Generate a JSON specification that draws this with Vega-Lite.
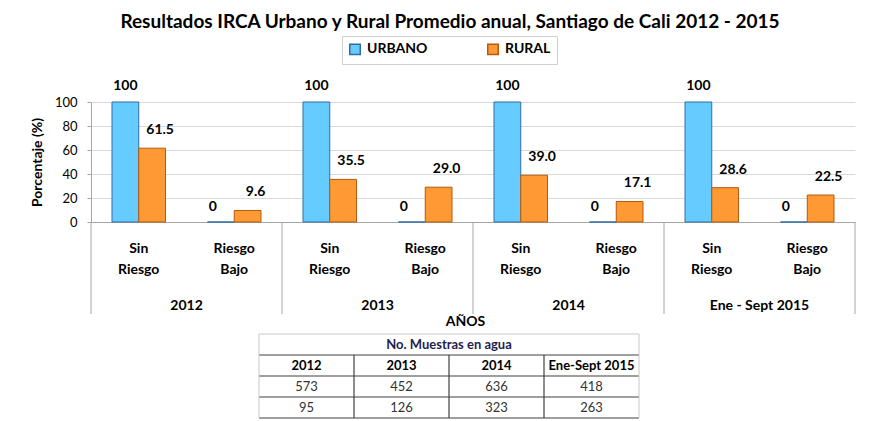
{
  "$schema": "https://vega.github.io/schema/vega-lite/v6.json",
  "autosize": {"type": "pad"},
  "padding": {"left": 30, "top": 12, "right": 5, "bottom": 2},
  "background": "white",
  "config": {"font": "Lato", "view": {"stroke": null}},
  "title": {"text": "Resultados IRCA Urbano y Rural Promedio anual, Santiago de Cali  2012 - 2015", "font": "Lato", "fontSize": 19, "fontWeight": "bold", "color": "#000000", "anchor": "middle", "frame": "group", "dx": -23, "offset": 4},
  "datasets": {
    "barras": [
      {"anio": "2012", "riesgo": "Sin Riesgo", "clave": "2012 Sin Riesgo", "serie": "URBANO", "valor": 100},
      {"anio": "2012", "riesgo": "Sin Riesgo", "clave": "2012 Sin Riesgo", "serie": "RURAL", "valor": 61.5},
      {"anio": "2012", "riesgo": "Riesgo Bajo", "clave": "2012 Riesgo Bajo", "serie": "URBANO", "valor": 0},
      {"anio": "2012", "riesgo": "Riesgo Bajo", "clave": "2012 Riesgo Bajo", "serie": "RURAL", "valor": 9.6},
      {"anio": "2013", "riesgo": "Sin Riesgo", "clave": "2013 Sin Riesgo", "serie": "URBANO", "valor": 100},
      {"anio": "2013", "riesgo": "Sin Riesgo", "clave": "2013 Sin Riesgo", "serie": "RURAL", "valor": 35.5},
      {"anio": "2013", "riesgo": "Riesgo Bajo", "clave": "2013 Riesgo Bajo", "serie": "URBANO", "valor": 0},
      {"anio": "2013", "riesgo": "Riesgo Bajo", "clave": "2013 Riesgo Bajo", "serie": "RURAL", "valor": 29.0},
      {"anio": "2014", "riesgo": "Sin Riesgo", "clave": "2014 Sin Riesgo", "serie": "URBANO", "valor": 100},
      {"anio": "2014", "riesgo": "Sin Riesgo", "clave": "2014 Sin Riesgo", "serie": "RURAL", "valor": 39.0},
      {"anio": "2014", "riesgo": "Riesgo Bajo", "clave": "2014 Riesgo Bajo", "serie": "URBANO", "valor": 0},
      {"anio": "2014", "riesgo": "Riesgo Bajo", "clave": "2014 Riesgo Bajo", "serie": "RURAL", "valor": 17.1},
      {"anio": "Ene - Sept 2015", "riesgo": "Sin Riesgo", "clave": "Ene - Sept 2015 Sin Riesgo", "serie": "URBANO", "valor": 100},
      {"anio": "Ene - Sept 2015", "riesgo": "Sin Riesgo", "clave": "Ene - Sept 2015 Sin Riesgo", "serie": "RURAL", "valor": 28.6},
      {"anio": "Ene - Sept 2015", "riesgo": "Riesgo Bajo", "clave": "Ene - Sept 2015 Riesgo Bajo", "serie": "URBANO", "valor": 0},
      {"anio": "Ene - Sept 2015", "riesgo": "Riesgo Bajo", "clave": "Ene - Sept 2015 Riesgo Bajo", "serie": "RURAL", "valor": 22.5}
    ],
    "muestras": [
      {"periodo": "2012", "urbano": 573, "rural": 95},
      {"periodo": "2013", "urbano": 452, "rural": 126},
      {"periodo": "2014", "urbano": 636, "rural": 323},
      {"periodo": "Ene-Sept 2015", "urbano": 418, "rural": 263}
    ],
    "encabezado": [{"titulo": "No. Muestras en agua"}],
    "filas": [{"fila": "titulo"}, {"fila": "periodo"}, {"fila": "urbano"}, {"fila": "rural"}]
  },
  "bounds": "flush",
  "spacing": 0,
  "resolve": {"scale": {"x": "independent", "y": "independent"}},
  "vconcat": [
    {
      "width": 764,
      "height": 120,
      "data": {"name": "barras"},
      "encoding": {
        "x": {"field": "clave", "type": "nominal", "sort": null,
          "scale": {"domain": ["2012 Sin Riesgo", "2012 Riesgo Bajo", "2013 Sin Riesgo", "2013 Riesgo Bajo", "2014 Sin Riesgo", "2014 Riesgo Bajo", "Ene - Sept 2015 Sin Riesgo", "Ene - Sept 2015 Riesgo Bajo"], "paddingInner": 0.44, "paddingOuter": 0.22},
          "axis": {"labels": false, "ticks": false, "title": null, "grid": false, "domainColor": "#a6a6a6"}},
        "xOffset": {"field": "serie", "type": "nominal", "scale": {"domain": ["URBANO", "RURAL"]}},
        "y": {"field": "valor", "type": "quantitative", "scale": {"domain": [0, 100]},
          "axis": {"values": [0, 20, 40, 60, 80, 100], "grid": true, "gridColor": "#d9d9d9", "domainColor": "#a6a6a6", "tickColor": "#a6a6a6", "tickSize": 4, "labelPadding": 10, "labelFont": "Lato", "labelFontSize": 13, "labelColor": "#000000", "title": "Porcentaje (%)", "titleFont": "Lato", "titleFontSize": 14, "titleFontWeight": "bold", "titleColor": "#000000", "titlePadding": 10}}
      },
      "layer": [
        {
          "mark": {"type": "bar", "strokeWidth": 1},
          "encoding": {
            "fill": {"field": "serie", "type": "nominal", "scale": {"domain": ["URBANO", "RURAL"], "range": ["#66CCFF", "#FF9933"]},
              "legend": {"title": null, "orient": "none", "legendX": 251, "legendY": -66, "direction": "horizontal", "symbolType": "square", "symbolSize": 110, "labelFont": "Lato", "labelFontSize": 14, "labelFontWeight": "bold", "labelColor": "#000000", "strokeColor": "#d0d0d0", "fillColor": "white", "padding": 6, "columnPadding": 56, "labelOffset": 5}},
            "stroke": {"field": "serie", "type": "nominal", "scale": {"domain": ["URBANO", "RURAL"], "range": ["#2E6DA4", "#B35A0F"]},
              "legend": {"title": null, "orient": "none", "legendX": 251, "legendY": -66, "direction": "horizontal", "symbolType": "square", "symbolSize": 110, "labelFont": "Lato", "labelFontSize": 14, "labelFontWeight": "bold", "labelColor": "#000000", "strokeColor": "#d0d0d0", "fillColor": "white", "padding": 6, "columnPadding": 56, "labelOffset": 5}}
          }
        },
        {
          "transform": [{"filter": "datum.serie == 'URBANO' && datum.valor > 0"}],
          "mark": {"type": "text", "fontWeight": "bold", "fontSize": 14, "dy": -16, "baseline": "middle", "color": "#000000"},
          "encoding": {"text": {"field": "valor", "type": "quantitative", "format": "d"}}
        },
        {
          "transform": [{"filter": "datum.serie == 'URBANO' && datum.valor == 0"}],
          "mark": {"type": "text", "fontWeight": "bold", "fontSize": 14, "dy": -15, "dx": -8, "baseline": "middle", "color": "#000000"},
          "encoding": {"text": {"field": "valor", "type": "quantitative", "format": "d"}}
        },
        {
          "transform": [{"filter": "datum.serie == 'RURAL'"}],
          "mark": {"type": "text", "fontWeight": "bold", "fontSize": 14, "dy": -18, "dx": 8, "baseline": "middle", "color": "#000000"},
          "encoding": {"text": {"field": "valor", "type": "quantitative", "format": ".1f"}}
        }
      ]
    },
    {
      "width": 764,
      "height": 92,
      "data": {"name": "barras"},
      "transform": [{"filter": "datum.serie == 'URBANO'"}],
      "encoding": {
        "x": {"field": "clave", "type": "nominal", "sort": null,
          "scale": {"domain": ["2012 Sin Riesgo", "2012 Riesgo Bajo", "2013 Sin Riesgo", "2013 Riesgo Bajo", "2014 Sin Riesgo", "2014 Riesgo Bajo", "Ene - Sept 2015 Sin Riesgo", "Ene - Sept 2015 Riesgo Bajo"], "paddingInner": 0, "paddingOuter": 0},
          "axis": {"labels": false, "ticks": false, "domain": false, "grid": false, "title": "AÑOS", "titleFont": "Lato", "titleFontSize": 14, "titleFontWeight": "bold", "titleColor": "#000000", "titlePadding": 0, "titleX": 374}}
      },
      "layer": [
        {
          "mark": {"type": "text", "lineBreak": " ", "lineHeight": 21, "fontSize": 14, "fontWeight": "bold", "dy": -19.5, "color": "#000000"},
          "encoding": {"text": {"field": "riesgo"}}
        },
        {
          "transform": [{"filter": "datum.riesgo == 'Sin Riesgo'"}],
          "mark": {"type": "text", "fontSize": 14, "fontWeight": "bold", "dy": 38, "color": "#000000"},
          "encoding": {"x": {"field": "clave", "type": "nominal", "bandPosition": 1,
            "axis": {"labels": false, "ticks": false, "domain": false, "grid": false, "title": "AÑOS", "titleFont": "Lato", "titleFontSize": 14, "titleFontWeight": "bold", "titleColor": "#000000", "titlePadding": 0, "titleX": 374}}, "text": {"field": "anio"}}
        },
        {
          "transform": [{"filter": "datum.riesgo == 'Sin Riesgo'"}],
          "mark": {"type": "rule", "color": "#a6a6a6"},
          "encoding": {"x": {"field": "clave", "type": "nominal", "bandPosition": 0,
            "axis": {"labels": false, "ticks": false, "domain": false, "grid": false, "title": "AÑOS", "titleFont": "Lato", "titleFontSize": 14, "titleFontWeight": "bold", "titleColor": "#000000", "titlePadding": 0, "titleX": 374}}}
        },
        {
          "transform": [{"filter": "datum.clave == 'Ene - Sept 2015 Riesgo Bajo'"}],
          "mark": {"type": "rule", "color": "#a6a6a6"},
          "encoding": {"x": {"field": "clave", "type": "nominal", "bandPosition": 1,
            "axis": {"labels": false, "ticks": false, "domain": false, "grid": false, "title": "AÑOS", "titleFont": "Lato", "titleFontSize": 14, "titleFontWeight": "bold", "titleColor": "#000000", "titlePadding": 0, "titleX": 374}}}
        }
      ]
    },
    {
      "width": 764,
      "height": 104,
      "layer": [
        {
          "data": {"name": "encabezado"},
          "mark": {"type": "text", "fontSize": 13, "fontWeight": "bold", "color": "#1f1f4f"},
          "encoding": {
            "x": {"datum": "2013", "bandPosition": 1, "scale": {"domain": ["2012", "2013", "2014", "Ene-Sept 2015"], "range": [168, 548], "paddingInner": 0, "paddingOuter": 0}, "axis": null},
            "y": {"datum": "titulo", "scale": {"domain": ["titulo", "periodo", "urbano", "rural"], "range": [20, 104], "paddingInner": 0, "paddingOuter": 0}, "axis": null},
            "text": {"field": "titulo"}
          }
        },
        {
          "data": {"name": "muestras"},
          "mark": {"type": "text", "fontSize": 13, "fontWeight": "bold", "color": "#000000"},
          "encoding": {
            "x": {"field": "periodo", "type": "nominal", "scale": {"domain": ["2012", "2013", "2014", "Ene-Sept 2015"], "range": [168, 548], "paddingInner": 0, "paddingOuter": 0}, "axis": null},
            "y": {"datum": "periodo", "scale": {"domain": ["titulo", "periodo", "urbano", "rural"], "range": [20, 104], "paddingInner": 0, "paddingOuter": 0}, "axis": null},
            "text": {"field": "periodo"}
          }
        },
        {
          "data": {"name": "muestras"},
          "mark": {"type": "text", "fontSize": 13, "color": "#333333"},
          "encoding": {
            "x": {"field": "periodo", "type": "nominal", "scale": {"domain": ["2012", "2013", "2014", "Ene-Sept 2015"], "range": [168, 548], "paddingInner": 0, "paddingOuter": 0}, "axis": null},
            "y": {"datum": "urbano", "scale": {"domain": ["titulo", "periodo", "urbano", "rural"], "range": [20, 104], "paddingInner": 0, "paddingOuter": 0}, "axis": null},
            "text": {"field": "urbano"}
          }
        },
        {
          "data": {"name": "muestras"},
          "mark": {"type": "text", "fontSize": 13, "color": "#333333"},
          "encoding": {
            "x": {"field": "periodo", "type": "nominal", "scale": {"domain": ["2012", "2013", "2014", "Ene-Sept 2015"], "range": [168, 548], "paddingInner": 0, "paddingOuter": 0}, "axis": null},
            "y": {"datum": "rural", "scale": {"domain": ["titulo", "periodo", "urbano", "rural"], "range": [20, 104], "paddingInner": 0, "paddingOuter": 0}, "axis": null},
            "text": {"field": "rural"}
          }
        },
        {
          "data": {"name": "filas"},
          "mark": {"type": "rule", "color": "#404040", "strokeWidth": 1.2},
          "encoding": {
            "x": {"datum": "2012", "bandPosition": 0, "scale": {"domain": ["2012", "2013", "2014", "Ene-Sept 2015"], "range": [168, 548], "paddingInner": 0, "paddingOuter": 0}, "axis": null},
            "x2": {"datum": "Ene-Sept 2015", "bandPosition": 1},
            "y": {"field": "fila", "type": "nominal", "bandPosition": 1, "scale": {"domain": ["titulo", "periodo", "urbano", "rural"], "range": [20, 104], "paddingInner": 0, "paddingOuter": 0}, "axis": null}
          }
        },
        {
          "data": {"name": "filas"},
          "transform": [{"filter": "datum.fila == 'titulo'"}],
          "mark": {"type": "rule", "color": "#c8c8c8"},
          "encoding": {
            "x": {"datum": "2012", "bandPosition": 0, "scale": {"domain": ["2012", "2013", "2014", "Ene-Sept 2015"], "range": [168, 548], "paddingInner": 0, "paddingOuter": 0}, "axis": null},
            "x2": {"datum": "Ene-Sept 2015", "bandPosition": 1},
            "y": {"field": "fila", "type": "nominal", "bandPosition": 0, "scale": {"domain": ["titulo", "periodo", "urbano", "rural"], "range": [20, 104], "paddingInner": 0, "paddingOuter": 0}, "axis": null}
          }
        },
        {
          "data": {"name": "muestras"},
          "transform": [{"filter": "datum.periodo != '2012'"}],
          "mark": {"type": "rule", "color": "#404040", "strokeWidth": 1.2},
          "encoding": {
            "x": {"field": "periodo", "type": "nominal", "bandPosition": 0, "scale": {"domain": ["2012", "2013", "2014", "Ene-Sept 2015"], "range": [168, 548], "paddingInner": 0, "paddingOuter": 0}, "axis": null},
            "y": {"datum": "periodo", "bandPosition": 0, "scale": {"domain": ["titulo", "periodo", "urbano", "rural"], "range": [20, 104], "paddingInner": 0, "paddingOuter": 0}, "axis": null},
            "y2": {"datum": "rural", "bandPosition": 1}
          }
        },
        {
          "data": {"name": "muestras"},
          "transform": [{"filter": "datum.periodo == 'Ene-Sept 2015'"}],
          "mark": {"type": "rule", "color": "#c8c8c8"},
          "encoding": {
            "x": {"field": "periodo", "type": "nominal", "bandPosition": 1, "scale": {"domain": ["2012", "2013", "2014", "Ene-Sept 2015"], "range": [168, 548], "paddingInner": 0, "paddingOuter": 0}, "axis": null},
            "y": {"datum": "titulo", "bandPosition": 0, "scale": {"domain": ["titulo", "periodo", "urbano", "rural"], "range": [20, 104], "paddingInner": 0, "paddingOuter": 0}, "axis": null},
            "y2": {"datum": "rural", "bandPosition": 1}
          }
        },
        {
          "data": {"name": "muestras"},
          "transform": [{"filter": "datum.periodo == '2012'"}],
          "mark": {"type": "rule", "color": "#c8c8c8"},
          "encoding": {
            "x": {"field": "periodo", "type": "nominal", "bandPosition": 0, "scale": {"domain": ["2012", "2013", "2014", "Ene-Sept 2015"], "range": [168, 548], "paddingInner": 0, "paddingOuter": 0}, "axis": null},
            "y": {"datum": "titulo", "bandPosition": 0, "scale": {"domain": ["titulo", "periodo", "urbano", "rural"], "range": [20, 104], "paddingInner": 0, "paddingOuter": 0}, "axis": null},
            "y2": {"datum": "rural", "bandPosition": 1}
          }
        }
      ]
    }
  ]
}
